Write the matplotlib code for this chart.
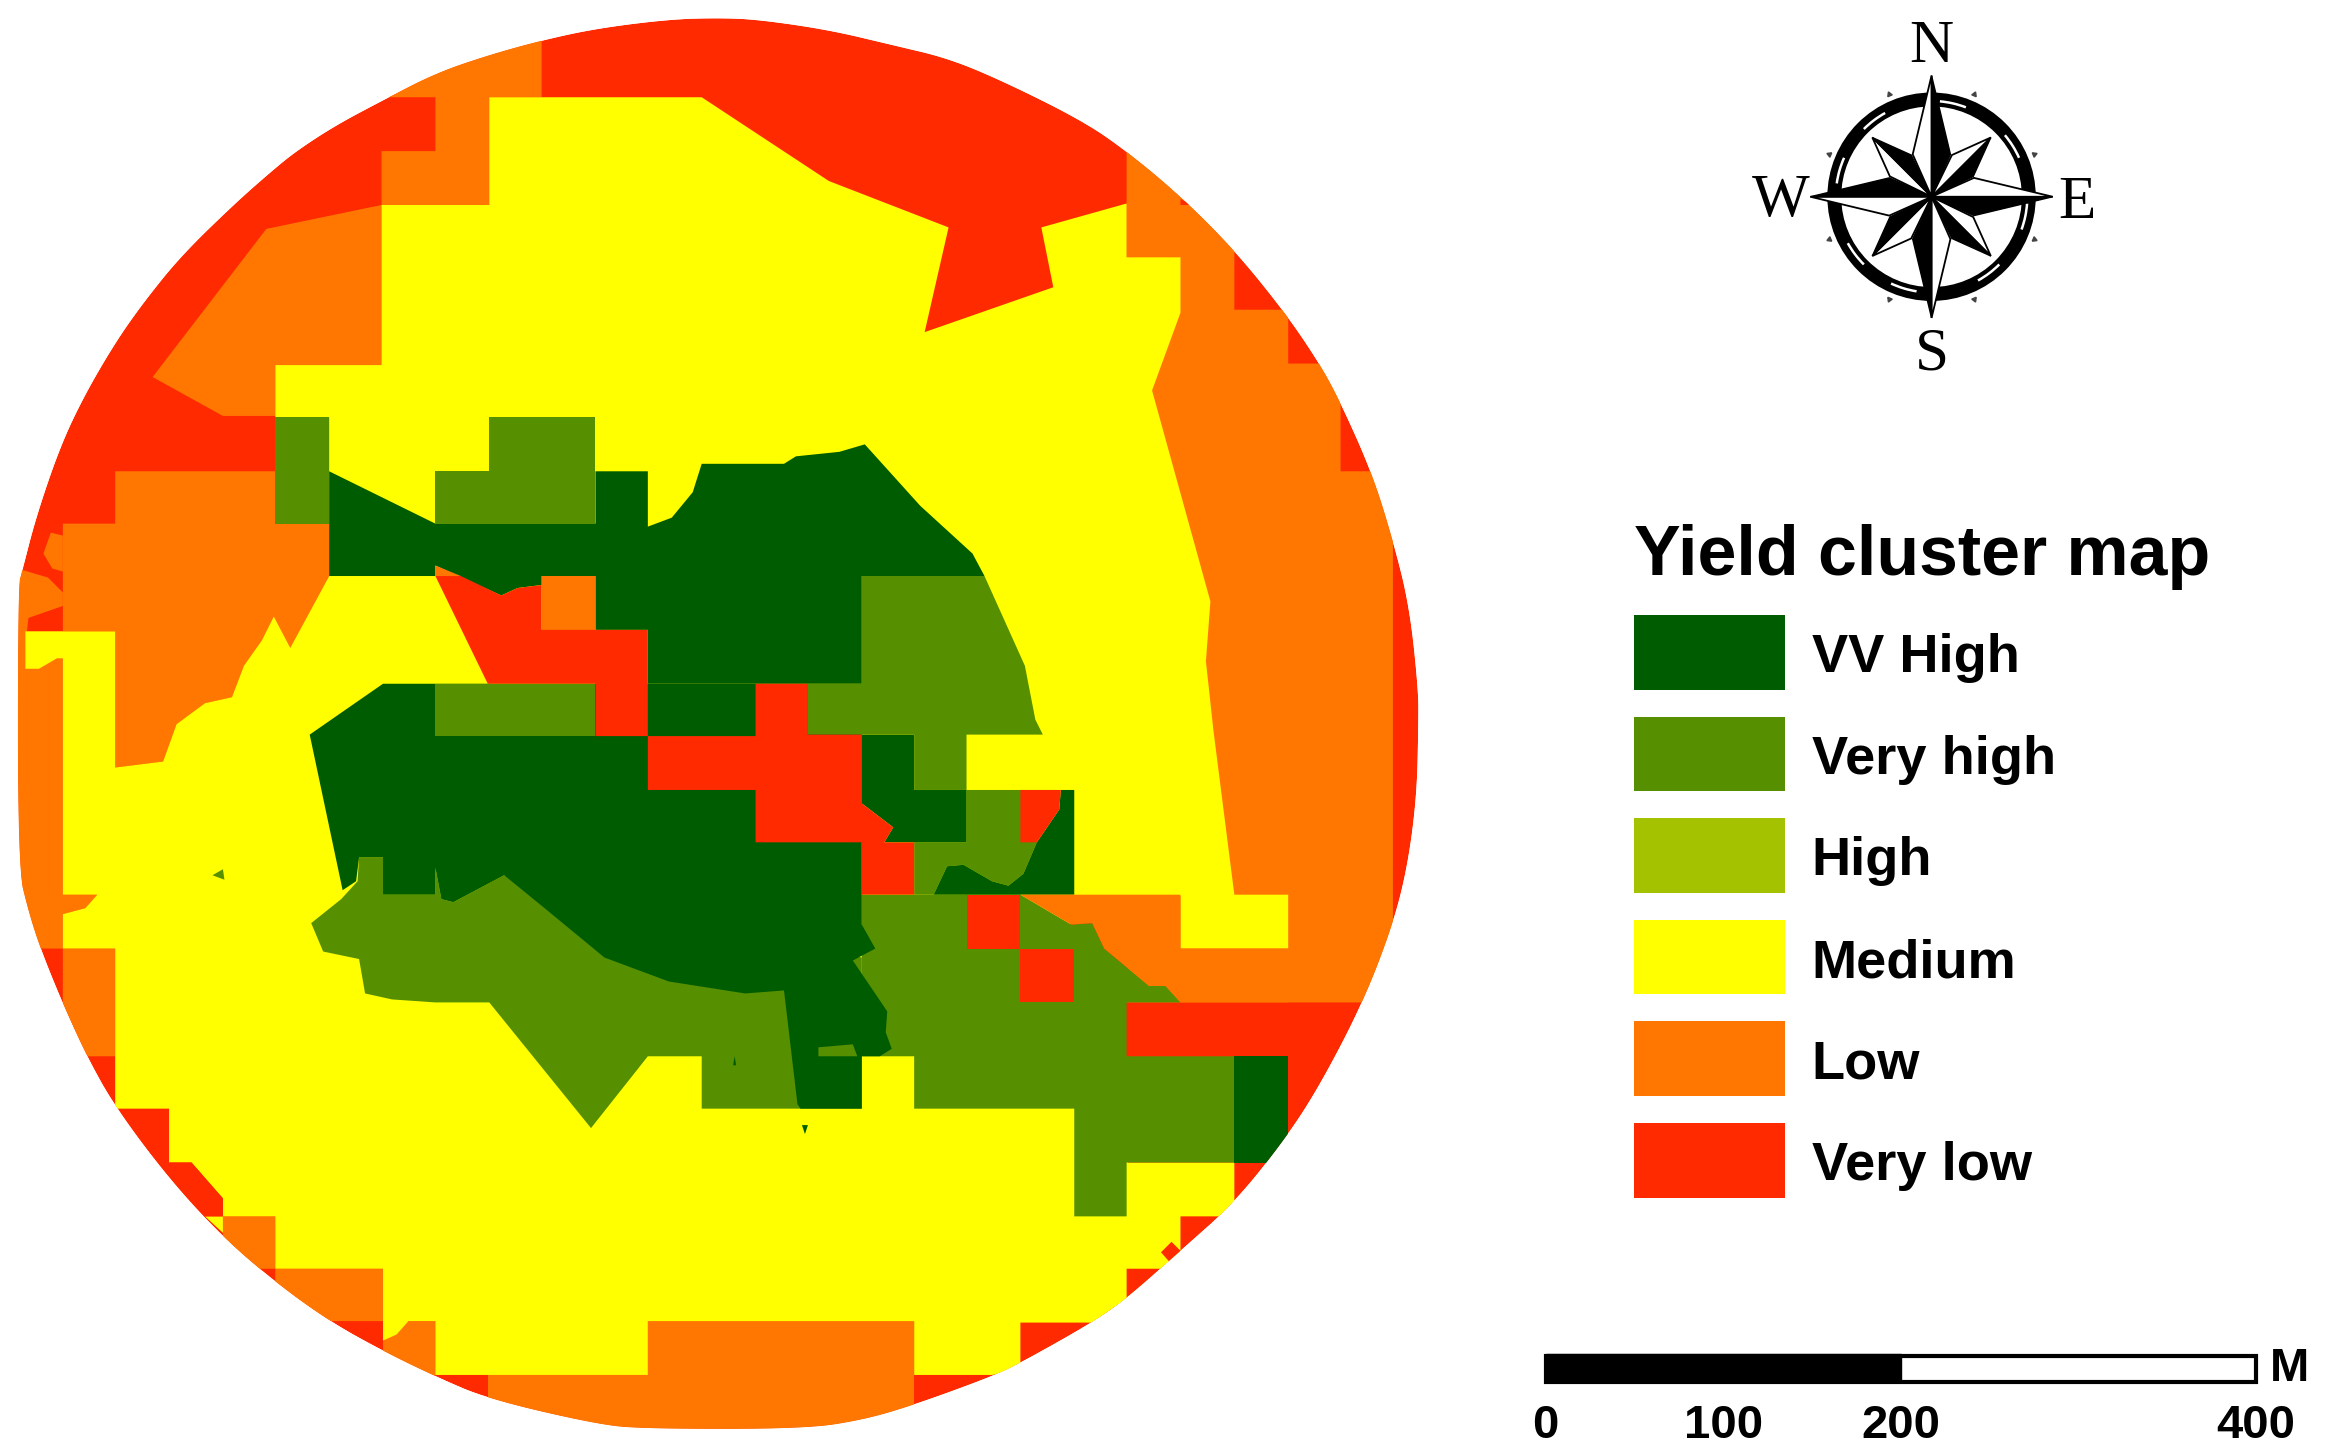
import numpy as np
import matplotlib
matplotlib.use("Agg")
import matplotlib.pyplot as plt
from matplotlib.patches import Polygon, Rectangle, Circle, Arc

## Data: classes and scale bar
classes = ["VV High", "Very high", "High", "Medium", "Low", "Very low"]
class_colors = ["#005C00", "#568F00", "#A5C200", "#FFFF00", "#FF7700", "#FF2A00"]
scale_values = [0, 100, 200, 400]
compass_letters = ["N", "E", "S", "W"]

## Data: map outlines (x, y in picture units)
field_outline = [(12,392),(15,381),(24,346),(40,299),(56,265),(77,229),(96,202),(121,171),(157,136),(182,114),
    (198,101),(224,84),(256,67),(291,49),(326,37),(362,27),(399,19),(447,13),(479,12),(506,13),(554,20),(596,30),
    (634,39),(672,55),(724,81),(753,101),(789,131),(825,167),(859,209),(882,243),(896,269),(917,316),(931,361),
    (942,405),(948,461),(948,485),(947,531),(941,578),(931,618),(911,670),(883,724),(860,760),(825,804),(789,836),
    (753,868),(730,884),(682,911),(663,920),(611,939),(577,949),(538,955),(431,955),(399,952),(326,935),(291,920),
    (256,903),(220,883),(184,857),(149,827),(113,788),(77,740),(58,706),(42,671),(27,634),(19,609),(12,580)]

low_top = [(255,65),(291,40),(362,15),(362,65),(327,65),(327,137),(255,137),(255,101),(291,101),(291,65)]
low_upper_left = [(255,137),(178,153),(102,252),(149,278),(184,278),(184,244),(255,244)]
low_left = [(77,315),(184,315),(184,350),(220,350),(220,385),(194,433),(183,412),(175,428),(163,445),(155,466),
    (137,470),(118,484),(109,509),(77,513),(77,422),(42,422),(42,350),(77,350)]
low_notch = [(42,358),(34,356),(29,370),(35,380),(42,382)]
low_strip = [(0,378),(15,381),(32,386),(42,396),(42,598),(65,598),(57,607),(42,611),(42,634),(27,634),(0,634)]
low_lower_left = [(42,634),(77,634),(77,706),(58,706),(42,671)]
low_right = [(753,95),(825,160),(825,207),(861,207),(861,243),(896,243),(896,315),(931,315),(931,625),(911,670),(753,670)]
low_sw1 = [(149,813),(184,813),(184,848),(174,848),(184,860),(149,830)]
low_sw2 = [(184,848),(256,848),(256,883),(215,883),(184,860)]
low_sw3 = [(256,896),(273,883),(291,883),(291,925),(256,905)]
low_bottom = [(326,919),(433,919),(433,883),(611,883),(611,965),(326,965)]
very_low_patch = [(42,405),(19,413),(18,422),(42,422)]

medium_main = [(327,65),(469,65),(554,121),(634,152),(618,222),(704,192),(696,152),(753,136),(753,172),(789,172),
    (789,209),(770,261),(809,402),(806,442),(811,488),(825,598),(861,598),(861,634),(789,634),(789,599),(718,599),
    (700,720),(754,777),(825,777),(825,804),(818,813),(789,813),(789,836),(779,848),(753,848),(753,868),(730,884),
    (682,884),(682,915),(663,919),(611,919),(611,883),(433,883),(433,919),(291,919),(291,883),(273,883),(265,892),
    (256,896),(256,848),(184,848),(184,813),(149,813),(149,801),(128,777),(113,777),(113,741),(77,741),(77,634),
    (42,634),(42,611),(57,607),(65,598),(42,598),(42,440),(38,440),(26,447),(17,447),(17,422),(77,422),(77,513),
    (109,509),(118,484),(137,470),(155,466),(163,445),(175,428),(183,412),(194,433),(220,385),(220,279),(184,279),
    (184,244),(255,244),(255,137),(327,137)]
medium_sliver = [(113,788),(137,813),(149,813),(149,824),(137,813)]

high_right = [(576,598),(682,598),(716,618),(730,617),(738,634),(768,659),(779,659),(789,670),(753,670),(753,706),
    (825,706),(825,777),(753,777),(753,813),(718,813),(718,741),(611,741),(611,706),(576,706)]
high_mid = [(611,563),(646,563),(646,528),(682,528),(705,528),(693,563),(684,584),(674,592),(663,589),(644,578),
    (633,579),(624,598),(611,598)]
high_band = [(240,573),(239,589),(228,601),(208,617),(216,636),(240,641),(244,664),(262,668),(291,670),(327,670),
    (395,754),(433,706),(469,706),(469,741),(576,741),(576,640),(337,585),(303,603),(295,601),(291,580),(291,598),
    (256,598),(256,573)]
high_block1 = [(184,279),(220,279),(220,350),(184,350)]
high_block2 = [(291,350),(291,315),(327,315),(327,279),(398,279),(398,350)]
high_block3 = [(291,457),(398,457),(398,492),(291,492)]
high_upper = [(576,385),(658,385),(685,445),(692,481),(697,491),(646,491),(646,528),(611,528),(611,491),(540,491),
    (540,457),(576,457)]
high_speck = [(142,585),(149,581),(150,588)]
high_patch = [(547,700),(570,698),(573,706),(547,706)]

top_lower = [(256,457),(576,457),(576,618),(585,634),(570,642),(593,676),(592,690),(596,701),(588,706),(576,706),
    (576,741),(535,741),(533,738),(524,662),(498,664),(447,656),(404,640),(364,607),(337,585),(303,603),(295,601),
    (291,580),(291,598),(256,598),(256,573),(240,573),(238,589),(229,595),(207,491)]
top_upper = [(220,315),(291,350),(398,350),(398,315),(433,315),(433,352),(449,346),(463,329),(469,310),(524,310),
    (532,305),(561,302),(578,297),(615,338),(650,370),(658,385),(576,385),(576,457),(433,457),(433,421),(398,421),
    (398,385),(362,385),(362,391),(346,393),(335,398),(291,378),(291,385),(220,385)]
top_mid = [(576,491),(611,491),(611,528),(646,528),(646,563),(591,563),(597,553),(576,537)]
top_right = [(709,528),(718,528),(718,598),(624,598),(633,579),(644,578),(663,589),(674,592),(684,584),(693,563),(708,541)]
top_block = [(825,706),(861,706),(861,777),(825,777)]
top_speck1 = [(491,706),(492,712),(490,712)]
top_speck2 = [(536,752),(540,752),(538,758)]

low_wedge = [(682,598),(789,598),(789,634),(861,634),(861,670),(789,670),(779,659),(768,659),(738,634),(730,617),(716,618)]
low_square = [(362,385),(398,385),(398,421),(362,421)]
low_sliver = [(291,378),(308,385),(291,385)]

very_low_left = [(291,385),(308,385),(335,398),(346,393),(362,391),(362,421),(433,421),(433,492),(398,492),(398,457),(326,457)]
very_low_mid = [(433,492),(505,492),(505,457),(540,457),(540,491),(576,491),(576,537),(597,553),(591,563),(611,563),
    (611,598),(576,598),(576,563),(505,563),(505,528),(433,528)]
very_low_sliver = [(682,528),(709,528),(708,541),(693,563),(682,563)]
very_low_sq1 = [(646,598),(682,598),(682,634),(646,634)]
very_low_sq2 = [(682,634),(718,634),(718,670),(682,670)]
very_low_sw = [(113,777),(128,777),(149,801),(149,813),(137,813)]
very_low_diamond = [(783,830),(790,837),(783,845),(776,837)]
very_low_tiny = [(789,133),(797,137),(789,137)]

VV, VH, HI, ME, LO, VL = class_colors

layers = [
    (VL, [field_outline]),
    (LO, [low_top, low_upper_left, low_left, low_notch, low_strip, low_lower_left, low_right, low_sw1, low_sw2, low_sw3, low_bottom]),
    (VL, [very_low_patch]),
    (ME, [medium_main, medium_sliver]),
    (VH, [high_right, high_mid, high_band]),
    (VV, [top_lower, top_upper, top_mid, top_right, top_block, top_speck2]),
    (VH, [high_block1, high_block2, high_block3, high_upper, high_speck, high_patch]),
    (VV, [top_speck1]),
    (LO, [low_wedge, low_square, low_sliver]),
    (VL, [very_low_left, very_low_mid, very_low_sliver, very_low_sq1, very_low_sq2, very_low_sw, very_low_diamond, very_low_tiny]),
]


def round_off(points, passes=3):
    """Corner cutting so the traced field edge reads as a curve."""
    pts = np.array(points, dtype=float)
    for _ in range(passes):
        nxt = np.roll(pts, -1, axis=0)
        pts = np.column_stack([0.75 * pts + 0.25 * nxt, 0.25 * pts + 0.75 * nxt]).reshape(-1, 2)
    return pts


fig = plt.figure(figsize=(23.46, 14.55), dpi=100)
ax = fig.add_axes([0, 0, 1, 1])
ax.set_xlim(0, 1568)
ax.set_ylim(972.5, 0)
ax.axis("off")

# everything on the map gets cut by the field edge
clip = Polygon(round_off(field_outline), closed=True, transform=ax.transData)
for color, polys in layers:
    for poly in polys:
        p = Polygon(poly if poly is not field_outline else round_off(poly), closed=True, facecolor=color, edgecolor="none", zorder=2)
        ax.add_patch(p)
        p.set_clip_path(clip)

# legend
ax.text(1092, 372, "Yield cluster map", fontsize=50.3, fontweight="bold", family="Liberation Sans", va="center", ha="left")
for i, (name, color) in enumerate(zip(classes, class_colors)):
    top = 411 + i * 67.9
    ax.add_patch(Rectangle((1092, top), 101, 50, facecolor=color, edgecolor="none"))
    ax.text(1211, top + 29, name, fontsize=39.1, fontweight="bold", family="Liberation Sans", va="center", ha="left")

# scale bar
bar_x0, bar_x1 = 1033, 1508
bar_per_unit = (bar_x1 - bar_x0) / scale_values[-1]
ax.add_patch(Rectangle((bar_x0, 906), bar_x1 - bar_x0, 18, facecolor="white", edgecolor="black", linewidth=3))
ax.add_patch(Rectangle((bar_x0, 905), scale_values[2] * bar_per_unit, 19, facecolor="black", edgecolor="black", linewidth=1))
for v in scale_values:
    ax.text(bar_x0 + v * bar_per_unit, 953, str(v), fontsize=34, fontweight="bold", family="Liberation Sans", ha="center", va="center")
ax.text(1530, 915, "M", fontsize=34, fontweight="bold", family="Liberation Sans", ha="center", va="center")

# compass rose
cx, cy = 1291, 131.5
ax.add_patch(Circle((cx, cy), 65, facecolor="white", edgecolor="black", linewidth=10, zorder=3))
for a in [77, 32, -12, -53, -107, -143, 164, 127]:
    ax.add_patch(Arc((cx, cy), 128, 128, theta1=-a - 8, theta2=-a + 8, color="white", linewidth=1.8, zorder=4))
for a in np.arange(8) * 45 + 22.5:
    t = np.radians(a)
    ax.plot(cx + 74 * np.sin(t), cy - 74 * np.cos(t), marker=(3, 0, -a), color="#444444", markersize=4, zorder=4)


def rose_point(angle, tip, shoulder=31, spread=20):
    """One star point, clockwise half black, other half white with a thin line."""
    t = np.radians(angle)
    l = np.radians(angle - spread)
    r = np.radians(angle + spread)
    tip_xy = (cx + tip * np.sin(t), cy - tip * np.cos(t))
    left = (cx + shoulder * np.sin(l), cy - shoulder * np.cos(l))
    right = (cx + shoulder * np.sin(r), cy - shoulder * np.cos(r))
    z = 6 if angle % 90 == 0 else 5
    ax.add_patch(Polygon([tip_xy, left, (cx, cy)], facecolor="white", edgecolor="black", linewidth=1.3, zorder=z))
    ax.add_patch(Polygon([tip_xy, right, (cx, cy)], facecolor="black", edgecolor="black", linewidth=1, zorder=z))


for angle in [45, 135, 225, 315]:
    rose_point(angle, 56, spread=19)
for angle in [0, 90, 180, 270]:
    rose_point(angle, 81, spread=24)

letter_pos = [(1291, 31.5), (1388, 136), (1291, 237), (1190.5, 134.5)]
for letter, (lx, ly) in zip(compass_letters, letter_pos):
    ax.text(lx, ly, letter, fontsize=44, family="Liberation Serif", ha="center", va="center")

fig.savefig("out.png", dpi=100)
